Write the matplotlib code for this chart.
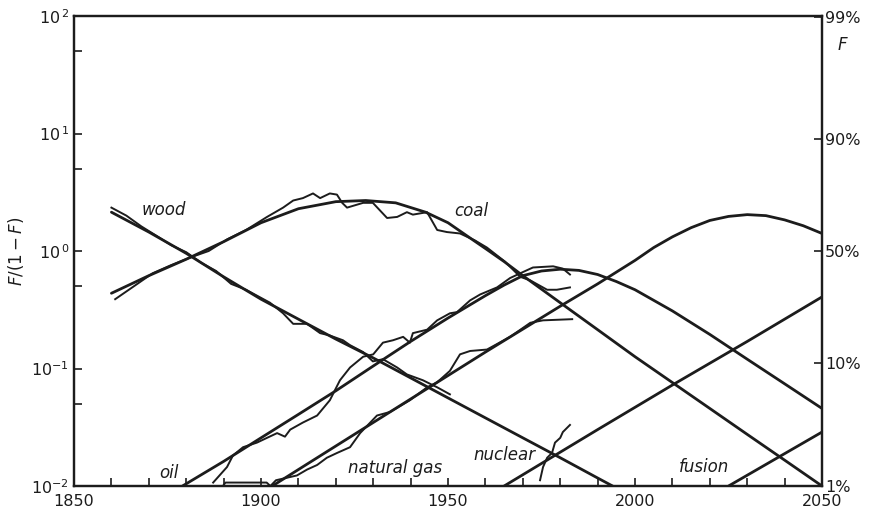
import matplotlib
matplotlib.use("Agg")
import matplotlib.pyplot as plt
from matplotlib.ticker import FixedLocator, NullFormatter

plt.rcParams['font.family'] = ['DejaVu Sans']
plt.rcParams['mathtext.fontset'] = 'dejavusans'

# ---- smooth substitution curves (year, F/(1-F)) ----
wood_years = [1860, 1870, 1880, 1890, 1900, 1910, 1920, 1930, 1940, 1950, 1960, 1970, 1980, 1990, 1994]
wood_fit = [2.14, 1.45, 0.955, 0.603, 0.389, 0.263, 0.178, 0.123, 0.0832, 0.0562, 0.0380, 0.0257, 0.0174, 0.0117, 0.0100]

coal_years = [1860, 1870, 1880, 1890, 1900, 1910, 1920, 1928, 1936, 1944, 1950, 1955, 1960, 1965, 1970,
              1980, 1990, 2000, 2010, 2020, 2030, 2040, 2050]
coal_fit = [0.437, 0.617, 0.851, 1.20, 1.74, 2.29, 2.63, 2.69, 2.57, 2.14, 1.74, 1.35, 1.05, 0.813, 0.617,
            0.363, 0.214, 0.126, 0.0759, 0.0457, 0.0275, 0.0166, 0.0100]

oil_years = [1879, 1890, 1900, 1910, 1920, 1930, 1940, 1950, 1960, 1965, 1970, 1975, 1980, 1985, 1990,
             1995, 2000, 2010, 2020, 2030, 2040, 2050]
oil_fit = [0.0100, 0.0162, 0.0257, 0.0407, 0.0646, 0.105, 0.170, 0.269, 0.417, 0.513, 0.617, 0.676, 0.700,
           0.684, 0.631, 0.550, 0.468, 0.309, 0.195, 0.120, 0.0741, 0.0457]

gas_years = [1903, 1920, 1940, 1960, 1980, 1990, 1995, 2000, 2005, 2010, 2015, 2020, 2025, 2030, 2035, 2040, 2045, 2050]
gas_fit = [0.0100, 0.0219, 0.0550, 0.138, 0.339, 0.525, 0.661, 0.832, 1.07, 1.32, 1.58, 1.82, 1.97, 2.04, 2.00,
           1.84, 1.64, 1.41]

nuclear_years = [1965, 1990, 2010, 2030, 2050]
nuclear_fit = [0.0100, 0.0302, 0.0724, 0.170, 0.407]

fusion_years = [2025, 2050]
fusion_fit = [0.0100, 0.0288]

# ---- historical data (year, F/(1-F)) ----
wood_obs_years = [1860, 1864, 1868, 1872, 1876, 1880, 1884, 1888, 1892, 1896, 1902.4, 1905.9, 1908.6, 1912.3,
                  1915.8, 1918.4, 1921.9, 1923.8, 1927.3, 1929.9, 1932.6, 1936.4, 1939, 1943.3, 1947.1, 1950.5]
wood_obs = [2.34, 2.00, 1.62, 1.35, 1.12, 0.977, 0.794, 0.676, 0.525, 0.468, 0.363, 0.295, 0.240, 0.240,
            0.200, 0.191, 0.174, 0.158, 0.138, 0.115, 0.120, 0.102, 0.0891, 0.0794, 0.0692, 0.0603]

coal_obs_years = [1861, 1866, 1871, 1876, 1881.5, 1886, 1891, 1896, 1901.6, 1905.9, 1908.6, 1911.2, 1913.9,
                  1915.8, 1918.4, 1920.3, 1921.7, 1923, 1927.3, 1929.9, 1933.7, 1936.4, 1939, 1940.6, 1944.4,
                  1947.1, 1949.7, 1953.2, 1957.2, 1960.4, 1965.2, 1969.3, 1972, 1976.5, 1979.1, 1982.6]
coal_obs = [0.389, 0.501, 0.646, 0.759, 0.891, 1.00, 1.26, 1.51, 1.95, 2.34, 2.69, 2.82, 3.09,
            2.82, 3.09, 3.02, 2.57, 2.34, 2.57, 2.57, 1.91, 1.95, 2.14, 2.04, 2.14,
            1.51, 1.45, 1.41, 1.23, 1.07, 0.813, 0.603, 0.562, 0.468, 0.468, 0.490]

oil_obs_years = [1887.2, 1890.9, 1892.5, 1895.2, 1898.9, 1901.6, 1904.3, 1906.4, 1907.8, 1911.2, 1915, 1918.4,
                 1921.1, 1923.8, 1927.3, 1930, 1932.6, 1935.3, 1938, 1939.8, 1940.6, 1944.4, 1947.1, 1950.5,
                 1952.4, 1955.9, 1958.6, 1963.1, 1966.6, 1969.3, 1972.7, 1978.1, 1980.7, 1982.6]
oil_obs = [0.0107, 0.0145, 0.0182, 0.0214, 0.0234, 0.0257, 0.0282, 0.0263, 0.0302, 0.0347, 0.0398, 0.0537,
           0.0794, 0.102, 0.126, 0.132, 0.166, 0.174, 0.186, 0.166, 0.200, 0.214, 0.257, 0.295,
           0.302, 0.380, 0.427, 0.490, 0.589, 0.646, 0.724, 0.741, 0.708, 0.631]

gas_obs_years = [1889.8, 1890.5, 1901.5, 1902.5, 1904, 1909.6, 1912.3, 1915, 1917.6, 1920.3, 1923.8, 1926.5,
                 1931, 1934.5, 1939.8, 1944.4, 1947, 1950.5, 1953.2, 1955.9, 1960.4, 1966.6, 1972, 1975.4, 1983.2]
gas_obs = [0.0100, 0.0107, 0.0107, 0.0100, 0.0112, 0.0123, 0.0138, 0.0151, 0.0174, 0.0191, 0.0214, 0.0282,
           0.0398, 0.0427, 0.0537, 0.0692, 0.0759, 0.0955, 0.132, 0.141, 0.145, 0.186, 0.245, 0.257, 0.263]

nuclear_obs_years = [1974.6, 1975.4, 1976.5, 1977.8, 1978.6, 1980, 1980.7, 1982.6]
nuclear_obs = [0.0112, 0.0145, 0.0174, 0.0191, 0.0234, 0.0257, 0.0288, 0.0331]

year_ticks = [1850, 1900, 1950, 2000, 2050]
share_ticks = [0.0101, 0.111, 1.0, 9.0, 99.0]
share_labels = ['1%', '10%', '50%', '90%', '99%']

ink = '#1c1c1c'

fig = plt.figure(figsize=(8.76, 5.13), dpi=100)
ax = fig.add_axes([0.0845, 0.0526, 0.8539, 0.9162])
ax.set_yscale('log')
ax.set_xlim(1850, 2050)
ax.set_ylim(0.01, 100)

fits = [(wood_years, wood_fit), (coal_years, coal_fit), (oil_years, oil_fit),
        (gas_years, gas_fit), (nuclear_years, nuclear_fit), (fusion_years, fusion_fit)]
for yrs, vals in fits:
    ax.plot(yrs, vals, color=ink, lw=2.0, solid_capstyle='round', clip_on=True)

obs = [(wood_obs_years, wood_obs), (coal_obs_years, coal_obs), (oil_obs_years, oil_obs),
       (gas_obs_years, gas_obs), (nuclear_obs_years, nuclear_obs)]
for yrs, vals in obs:
    ax.plot(yrs, vals, color=ink, lw=1.4, solid_joinstyle='round')

# labels on the curves
lab_kw = dict(fontsize=12, style='italic', color=ink, ha='center', va='center')
ax.text(1874.1, 2.23, 'wood', **lab_kw)
ax.text(1956.1, 2.19, 'coal', **lab_kw)
ax.text(1875.4, 0.0129, 'oil', **lab_kw)
ax.text(1935.8, 0.0142, 'natural gas', **lab_kw)
ax.text(1965.2, 0.0184, 'nuclear', **lab_kw)
ax.text(2018.4, 0.0145, 'fusion', **lab_kw)

# left axis
ax.yaxis.set_major_locator(FixedLocator([0.01, 0.1, 1, 10, 100]))
ax.yaxis.set_minor_locator(FixedLocator([0.05, 0.5, 5, 50]))
ax.yaxis.set_minor_formatter(NullFormatter())
ax.set_yticklabels([r'$\mathregular{10^{-2}}$', r'$\mathregular{10^{-1}}$', r'$\mathregular{10^{\,0}}$',
                    r'$\mathregular{10^{\,1}}$', r'$\mathregular{10^{\,2}}$'])
ax.xaxis.set_major_locator(FixedLocator(year_ticks))
ax.xaxis.set_minor_locator(FixedLocator(list(range(1860, 2050, 10))))
ax.tick_params(axis='both', which='both', direction='in', colors=ink, labelsize=11.5, width=1.2, length=6)
ax.tick_params(axis='x', which='both', pad=6)
ax.set_ylabel(r'$F/(1-F)$', fontsize=12, color=ink, labelpad=4)

for s in ax.spines.values():
    s.set_linewidth(1.6)
    s.set_color(ink)

# right axis: share F
ax2 = ax.twinx()
ax2.set_yscale('log')
ax2.set_ylim(0.01, 100)
ax2.yaxis.set_major_locator(FixedLocator(share_ticks))
ax2.yaxis.set_minor_locator(FixedLocator([]))
ax2.set_yticklabels(share_labels)
ax2.tick_params(axis='y', direction='in', colors=ink, labelsize=11.5, width=1.2, length=6, pad=2)
for s in ax2.spines.values():
    s.set_linewidth(1.6)
    s.set_color(ink)
ax.text(1.021, 0.938, 'F', transform=ax.transAxes, fontsize=12, style='italic', color=ink,
        ha='left', va='center')

fig.savefig('out.png', dpi=100)
